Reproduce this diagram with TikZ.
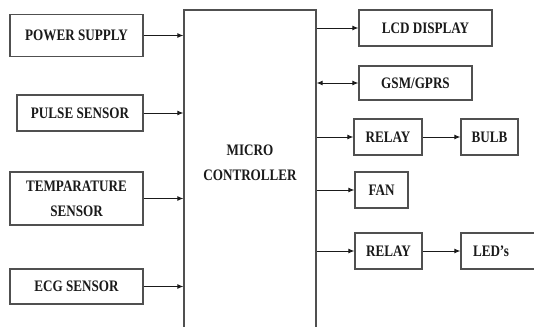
\documentclass[tikz,border=0pt]{standalone}
\usepackage{fontspec}
\setmainfont{Liberation Serif}[FakeStretch=0.82]
\usetikzlibrary{arrows.meta}
\definecolor{ink}{HTML}{1A1A1A}
\definecolor{edge}{HTML}{505050}
\newcommand{\BlockF}{\fontsize{16}{25}\selectfont\bfseries}
\tikzset{
  blk/.style={draw=edge, line width=1.3pt, fill=white, font=\BlockF, text=ink, align=center, inner sep=0pt},
  sig/.style={-{Latex[length=6pt,width=5pt]}, ink, line width=0.9pt},
  bisig/.style={{Latex[length=6pt,width=5pt]}-{Latex[length=6pt,width=5pt]}, ink, line width=0.9pt},
}
\begin{document}
\begin{tikzpicture}[x=1pt,y=-1pt]
\useasboundingbox (0,0) rectangle (534,326);
\clip (0,0) rectangle (534,326);
% controller (runs off the bottom)
\node[blk, minimum width=132pt, minimum height=400pt] (mcu) at (250,210) {};
\node[font=\BlockF, text=ink, align=center] (mcutxt) at (250,163) {MICRO\\CONTROLLER};
% inputs
\node[blk, minimum width=133pt, minimum height=42pt] (pwr) at (76.5,35.5) {POWER SUPPLY};
\node[blk, minimum width=126pt, minimum height=36pt] (pulse) at (80,113) {PULSE SENSOR};
\node[blk, minimum width=133pt, minimum height=53pt] (temp) at (76.5,198.5) {TEMPARATURE\\SENSOR};
\node[blk, minimum width=133pt, minimum height=35pt] (ecg) at (76.5,286.5) {ECG SENSOR};
% outputs
\node[blk, minimum width=133pt, minimum height=36pt] (lcd) at (425.5,28) {LCD DISPLAY};
\node[blk, minimum width=113pt, minimum height=34pt] (gsm) at (415.5,83) {GSM/GPRS};
\node[blk, minimum width=68pt, minimum height=36pt] (relayA) at (388,137) {RELAY};
\node[blk, minimum width=57pt, minimum height=36pt] (bulb) at (489.5,137) {BULB};
\node[blk, minimum width=53pt, minimum height=36pt] (fan) at (381.5,190) {FAN};
\node[blk, minimum width=67pt, minimum height=36pt] (relayB) at (388.5,251) {RELAY};
\node[blk, text width=60pt, align=left, inner xsep=12pt, minimum height=36pt] (leds) at (503,251) {LED's};
% links
\foreach \src in {pwr,pulse,temp,ecg}
  \draw[sig] (\src.east) -- (\src.east -| mcu.west);
\foreach \dst in {lcd,relayA,fan,relayB}
  \draw[sig] (mcu.east |- \dst.west) -- (\dst.west);
\draw[bisig] (mcu.east |- gsm.west) -- (gsm.west);
\draw[sig] (relayA) -- (bulb);
\draw[sig] (relayB) -- (leds);
\end{tikzpicture}
\end{document}
